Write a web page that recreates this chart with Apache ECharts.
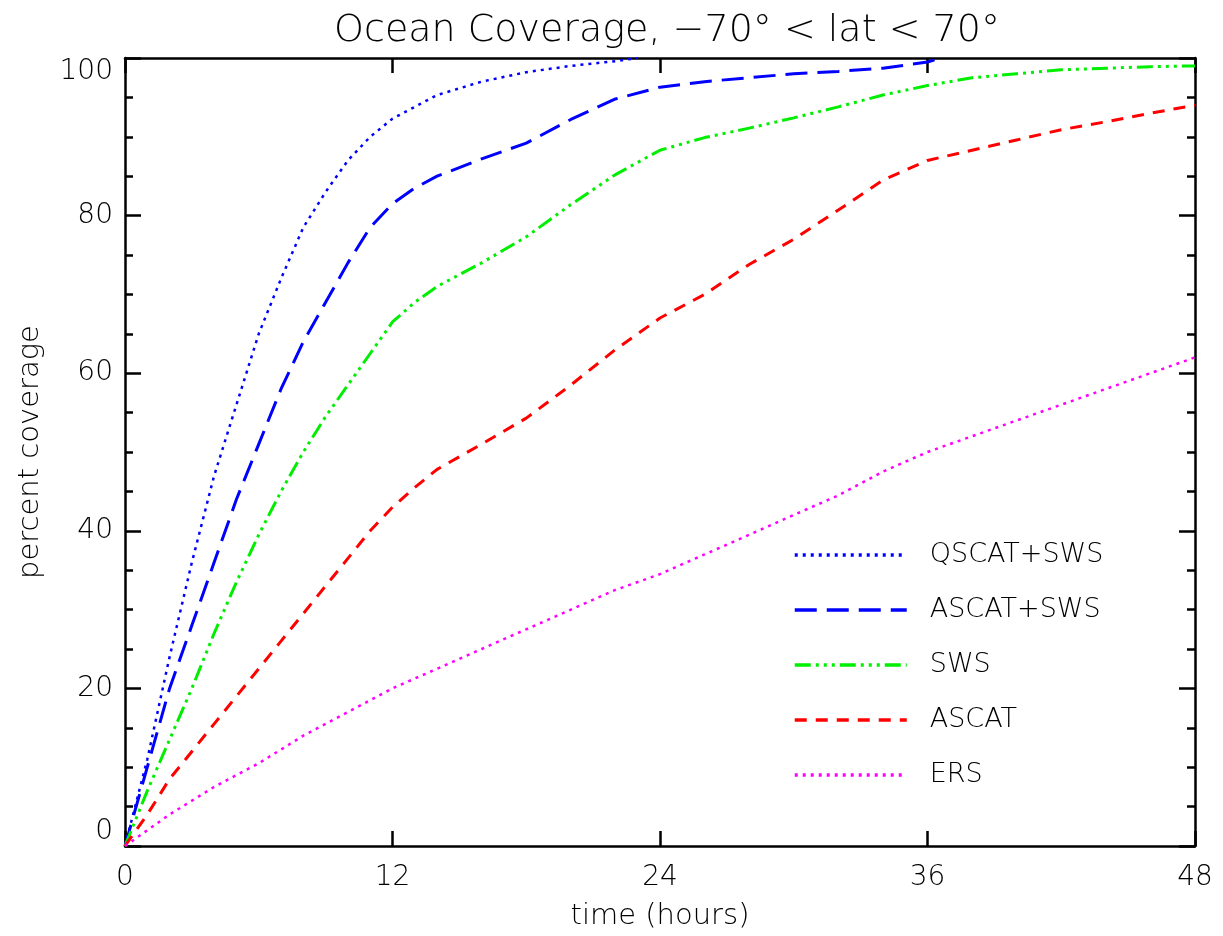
<!DOCTYPE html>
<html>
<head>
<meta charset="utf-8">
<script src="https://cdn.jsdelivr.net/npm/echarts@6/dist/echarts.min.js"></script>
<style>html,body{margin:0;padding:0;background:#fff;}#c{width:1223px;height:936px;}</style>
</head>
<body>
<div id="c"></div>
<script>
const xTicks = [0, 12, 24, 36, 48];
const yTicks = [0, 20, 40, 60, 80, 100];

const qscatSwsT = [0, 1, 2, 3, 4, 5, 6, 7, 8, 9, 10, 11, 12, 14, 16, 18, 20, 22, 23];
const qscatSwsV = [0, 11, 24, 36, 47, 56, 65, 72, 78.5, 83, 87, 90, 92.3, 95.3, 97, 98.2, 99, 99.6, 100];

const ascatSwsT = [0, 1, 2, 3, 4, 5, 6, 7, 8, 9, 10, 11, 12, 13, 14, 16, 18, 20, 22, 24, 26, 28, 30, 32, 34, 36, 36.6];
const ascatSwsV = [0, 10, 20, 28, 36, 44, 51, 58, 64, 69, 74, 78.5, 81.5, 83.5, 85, 87.2, 89.2, 92.2, 94.8, 96.3, 97, 97.5, 98, 98.3, 98.7, 99.5, 100];

const swsT = [0, 1, 2, 3, 4, 5, 6, 7, 8, 9, 10, 11, 12, 13, 14, 16, 18, 20, 22, 24, 26, 28, 30, 32, 34, 36, 38, 40, 42, 44, 46, 48];
const swsV = [0, 7, 13.5, 20, 27, 33.5, 39.5, 45, 50, 54.5, 58.5, 62.5, 66.5, 69, 71, 74, 77.3, 81.4, 85.2, 88.3, 89.9, 91.1, 92.4, 93.8, 95.3, 96.5, 97.5, 98, 98.5, 98.7, 98.9, 99];

const ascatT = [0, 1, 2, 3, 4, 5, 6, 7, 8, 9, 10, 11, 12, 13, 14, 16, 18, 20, 22, 24, 26, 28, 30, 32, 34, 36, 38, 40, 42, 44, 46, 48];
const ascatV = [0, 4, 8.5, 12, 15.5, 19, 22.5, 26, 29.5, 33, 36.5, 40, 43, 45.5, 47.8, 51, 54.3, 58.5, 63, 67, 70, 73.8, 77, 80.7, 84.5, 87, 88.3, 89.6, 90.9, 91.9, 93, 94];

const ersT = [0, 2, 4, 6, 8, 10, 12, 14, 16, 18, 20, 22, 24, 26, 28, 30, 32, 34, 36, 38, 40, 42, 44, 46, 48];
const ersV = [0, 4, 7.5, 10.5, 14, 17, 20, 22.5, 25, 27.5, 30, 32.5, 34.5, 37, 39.5, 42, 44.5, 47.5, 50, 52, 54, 56, 58, 60, 62];

const seriesNames = ['QSCAT+SWS', 'ASCAT+SWS', 'SWS', 'ASCAT', 'ERS'];

function zip(t, v) { return t.map((x, i) => [x, v[i]]); }

const FONT = 'DejaVu Sans';
const axisLineStyle = { color: '#000', width: 2.5 };

const chart = echarts.init(document.getElementById('c'), null, { renderer: 'canvas' });

function mkSeries(name, t, v, color, dash, width) {
  return {
    name: name, type: 'line', data: zip(t, v), showSymbol: false, symbol: 'none',
    smooth: false, animation: false, z: 3,
    lineStyle: { color: color, width: width, type: dash, cap: 'butt' },
    itemStyle: { color: color }
  };
}

chart.setOption({
  animation: false,
  backgroundColor: '#fff',
  title: {
    text: 'Ocean Coverage, \u221270\u00b0 < lat < 70\u00b0',
    left: 662, top: 7, textAlign: 'center',
    textStyle: { fontFamily: FONT, fontSize: 38, fontWeight: 200, color: '#000' }
  },
  grid: { left: 125, right: 28, top: 58, bottom: 89, containLabel: false },
  legend: {
    orient: 'vertical', left: 793, top: 540, padding: 0,
    itemWidth: 112, itemHeight: 14, itemGap: 25,
    data: seriesNames,
    itemStyle: { opacity: 0, borderWidth: 0 },
    lineStyle: { width: 3.5 },
    textStyle: { fontFamily: FONT, fontSize: 27, fontWeight: 200, color: '#000', lineHeight: 30, padding: [0, 0, 0, 18] }
  },
  xAxis: [
    {
      type: 'value', position: 'bottom', min: xTicks[0], max: xTicks[xTicks.length - 1], interval: 12,
      name: 'time (hours)', nameLocation: 'middle', nameGap: 56,
      nameTextStyle: { fontFamily: FONT, fontSize: 29, fontWeight: 200, color: '#000' },
      axisLine: { show: true, onZero: false, lineStyle: axisLineStyle },
      axisTick: { show: true, inside: true, length: 15, lineStyle: axisLineStyle },
      axisLabel: { fontFamily: FONT, fontSize: 28, fontWeight: 200, color: '#000', margin: 18 },
      splitLine: { show: false }
    },
    {
      type: 'value', position: 'top', min: xTicks[0], max: xTicks[xTicks.length - 1], interval: 12,
      axisLine: { show: true, onZero: false, lineStyle: axisLineStyle },
      axisTick: { show: true, inside: true, length: 15, lineStyle: axisLineStyle },
      axisLabel: { show: false }, splitLine: { show: false }
    }
  ],
  yAxis: [
    {
      type: 'value', position: 'left', min: yTicks[0], max: yTicks[yTicks.length - 1], interval: 20,
      name: 'percent coverage', nameLocation: 'middle', nameGap: 80,
      nameTextStyle: { fontFamily: FONT, fontSize: 29, fontWeight: 200, color: '#000' },
      axisLine: { show: true, onZero: false, lineStyle: axisLineStyle },
      axisTick: { show: true, inside: true, length: 16, lineStyle: axisLineStyle },
      minorTick: { show: true, splitNumber: 4, length: 8, lineStyle: axisLineStyle },
      axisLabel: { fontFamily: FONT, fontSize: 28, fontWeight: 200, color: '#000', margin: 12,
        verticalAlignMaxLabel: 'top', verticalAlignMinLabel: 'bottom' },
      splitLine: { show: false }, minorSplitLine: { show: false }
    },
    {
      type: 'value', position: 'right', min: yTicks[0], max: yTicks[yTicks.length - 1], interval: 20,
      axisLine: { show: true, onZero: false, lineStyle: axisLineStyle },
      axisTick: { show: true, inside: true, length: 16, lineStyle: axisLineStyle },
      minorTick: { show: true, splitNumber: 4, length: 8, lineStyle: axisLineStyle },
      axisLabel: { show: false }, splitLine: { show: false }, minorSplitLine: { show: false }
    }
  ],
  series: [
    mkSeries(seriesNames[0], qscatSwsT, qscatSwsV, '#0000ff', [3, 5], 2.5),
    mkSeries(seriesNames[1], ascatSwsT, ascatSwsV, '#0000ff', [22, 10], 3),
    mkSeries(seriesNames[2], swsT, swsV, '#00ee00', [16, 5, 3, 5, 3, 5, 3, 5], 3),
    mkSeries(seriesNames[3], ascatT, ascatV, '#ff0000', [12, 9], 3),
    mkSeries(seriesNames[4], ersT, ersV, '#ff00ff', [3, 5], 2.5)
  ]
});
</script>
</body>
</html>
